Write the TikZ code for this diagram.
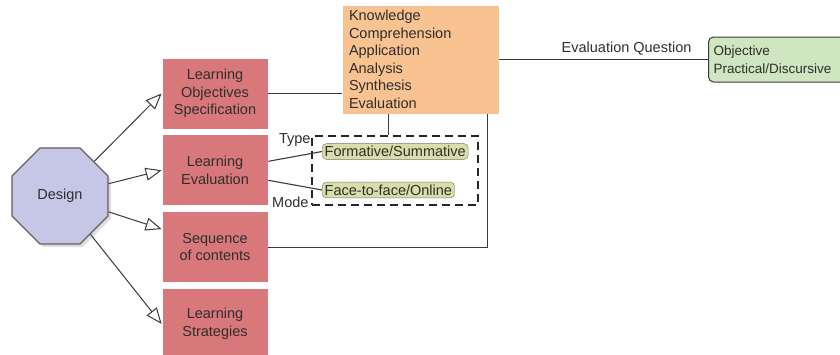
\documentclass[tikz,border=0pt]{standalone}
\usepackage{fontspec}
\setmainfont{Liberation Sans}
\usetikzlibrary{arrows.meta,positioning,calc,shapes.geometric,shadows,fit}
\definecolor{ldred}{HTML}{D9787A}
\definecolor{ldorange}{HTML}{F8C291}
\definecolor{ldgreen}{HTML}{CFE6C0}
\definecolor{ldpill}{HTML}{D9DDAA}
\definecolor{ldviolet}{HTML}{C6C6E6}
\definecolor{ldline}{HTML}{3A3A3A}
\definecolor{ldtext}{HTML}{2E2E2E}
\tikzset{
  stage/.style={fill=ldred, draw=white, line width=0.8pt, align=center,
    minimum width=106pt, minimum height=71pt, inner sep=2pt, text=ldtext},
  pill/.style={fill=ldpill, draw=ldline!70, rounded corners=4pt,
    inner xsep=2.5pt, inner ysep=2.5pt, text=ldtext},
  link/.style={ldline, line width=1.1pt},
  arr/.style={-{Triangle[open, length=16pt, width=13pt]}, ldline, line width=1pt},
}

\begin{document}
\begin{tikzpicture}[x=1pt, y=-1pt, font=\fontsize{14.5}{17.5}\selectfont]
    \useasboundingbox (0,0) rectangle (840,354);
    \clip (0,0) rectangle (840,354);
    \node[regular polygon, regular polygon sides=8, minimum size=104pt, inner sep=0pt,
      fill=ldviolet, draw=ldline!80, line width=1.2pt, text=ldtext,
      drop shadow={shadow xshift=3pt, shadow yshift=-3pt, fill=black!25}] (design) at (60,196) {Design};
    \node[stage] (objspec) at (215,93.5) {Learning\\Objectives\\Specification};
    \node[stage, below=5pt of objspec] (learneval) {Learning\\Evaluation};
    \node[stage, below=5pt of learneval] (seq) {Sequence\\of contents};
    \node[stage, below=5pt of seq] (strat) {Learning\\Strategies};
    \node[fill=ldorange, draw=white, align=left, text width=143pt, inner xsep=7pt,
      inner ysep=2pt, minimum height=109pt, text=ldtext] (bloom) at (420.5,59.5)
      {Knowledge\\Comprehension\\Application\\Analysis\\Synthesis\\Evaluation};
    \node[fill=ldgreen, draw=ldline, rounded corners=5pt, line width=1pt, align=left,
      text width=150pt, inner xsep=5pt, minimum height=45pt, anchor=west, text=ldtext,
      font=\fontsize{13.5}{17.5}\selectfont] (qtype) at (708,59.5)
      {Objective\\Practical/Discursive};
    \node[pill, anchor=west] (formsum) at (322,151.5) {Formative/Summative};
    \node[pill, anchor=west] (f2f) at (322,190) {Face-to-face/Online};
    \node[draw=black!85, line width=2pt, dash pattern=on 8pt off 5pt,
      fit=(formsum)(f2f), inner xsep=10pt, inner ysep=7pt] (evalgrp) {};
    % arrows out of the design step
    \draw[arr] (design) -- (objspec.west);
    \draw[arr] (design) -- (learneval.west);
    \draw[arr] (design) -- ([yshift=18pt]seq.west);
    \draw[arr] (design) -- (strat.west);
    % links
    \draw[link] (objspec.east) -- (objspec.east -| bloom.west);
    \draw[link] (bloom.east |- qtype.west) -- node[above, pos=0.61, text=ldtext] {Evaluation Question} (qtype.west);
    \draw[link] (seq.east) -| ([xshift=-12pt]bloom.south east);
    \draw[link] ([xshift=-32pt]bloom.south) -- ([xshift=-32pt]bloom.south |- evalgrp.north);
    \draw[link] ([yshift=9pt]learneval.east) -- (formsum.west);
    \draw[link] ([yshift=-10pt]learneval.east) -- (f2f.west);
    \node[anchor=east, text=ldtext] (typelbl) at ([xshift=-8pt, yshift=11pt]formsum.west) {Type};
    \node[anchor=east, text=ldtext] (modelbl) at ([xshift=1pt, yshift=4pt]evalgrp.south west) {Mode};
\end{tikzpicture}
\end{document}
